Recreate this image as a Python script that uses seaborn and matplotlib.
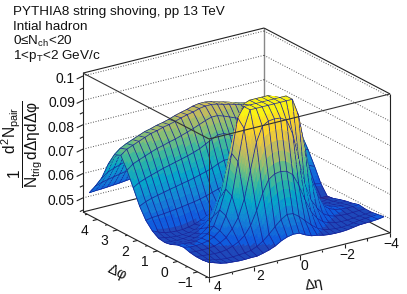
import matplotlib

matplotlib.use("Agg")
import matplotlib.pyplot as plt  # noqa: E402
import numpy as np  # noqa: E402
import seaborn as sns  # noqa: E402
from mpl_toolkits.mplot3d import proj3d  # noqa: E402
from mpl_toolkits.mplot3d.art3d import Poly3DCollection  # noqa: E402

title_lines = ["PYTHIA8 string shoving, pp 13 TeV", "Intial hadron", "0≤N$_{ch}$<20", "1<p$_{T}$<2 GeV/c"]
phi_centers = [-1.41, -1.10, -0.785, -0.47, -0.157, 0.157, 0.47, 0.785, 1.10, 1.41,
               1.73, 2.04, 2.36, 2.67, 2.98, 3.30, 3.61, 3.93, 4.24, 4.55]
eta_centers = [3.867, 3.6, 3.333, 3.067, 2.8, 2.533, 2.267, 2.0, 1.733, 1.467, 1.2, 0.933, 0.667, 0.4, 0.133,
               -0.133, -0.4, -0.667, -0.933, -1.2, -1.467, -1.733, -2.0, -2.267, -2.533, -2.8, -3.067, -3.333, -3.6, -3.867]
# per-trigger yield, one row per dphi bin, eta running from +3.87 to -3.87
pair_yield = [
    [.0496, .0488, .0480, .0475, .0473, .0471, .0471, .0472, .0472, .0478, .0485, .0495, .0510, .0520, .0525,
     .0523, .0510, .0500, .0496, .0490, .0487, .0486, .0486, .0488, .0492, .0496, .0497, .0498, .0500, .0504],
    [.0492, .0486, .0480, .0476, .0474, .0474, .0476, .0478, .0482, .0492, .0508, .0530, .0555, .0578, .0593,
     .0590, .0572, .0548, .0525, .0505, .0494, .0488, .0485, .0484, .0486, .0490, .0494, .0497, .0498, .0500],
    [.0492, .0490, .0488, .0486, .0486, .0490, .0498, .0510, .0530, .0565, .0620, .0685, .0735, .0752, .0756,
     .0750, .0730, .0680, .0615, .0560, .0526, .0506, .0496, .0490, .0488, .0488, .0490, .0492, .0494, .0496],
    [.0496, .0494, .0494, .0494, .0497, .0505, .0520, .0550, .0590, .0660, .0770, .0880, .0940, .0955, .0958,
     .0955, .0940, .0880, .0770, .0660, .0590, .0550, .0520, .0505, .0497, .0494, .0493, .0494, .0495, .0496],
    [.0504, .0498, .0498, .0500, .0505, .0515, .0535, .0590, .0665, .0800, .0930, .1000, .1000, .1000, .1000,
     .1000, .1000, .1000, .1000, .0930, .0800, .0665, .0590, .0535, .0515, .0505, .0500, .0498, .0498, .0500],
    [.0500, .0498, .0496, .0497, .0503, .0515, .0540, .0600, .0680, .0820, .0960, .1000, .1000, .1000, .1000,
     .1000, .1000, .1000, .1000, .0960, .0820, .0680, .0600, .0540, .0515, .0503, .0497, .0494, .0492, .0492],
    [.0488, .0486, .0484, .0485, .0490, .0500, .0520, .0560, .0625, .0720, .0830, .0930, .0990, .1000, .1000,
     .1000, .1000, .0990, .0930, .0830, .0720, .0625, .0560, .0520, .0500, .0490, .0485, .0484, .0485, .0487],
    [.0483, .0481, .0479, .0479, .0483, .0490, .0503, .0525, .0560, .0610, .0680, .0760, .0830, .0880, .0900,
     .0900, .0880, .0830, .0760, .0680, .0610, .0560, .0525, .0503, .0490, .0483, .0479, .0478, .0479, .0480],
    [.0487, .0483, .0478, .0476, .0476, .0478, .0484, .0495, .0512, .0535, .0565, .0600, .0635, .0660, .0670,
     .0670, .0660, .0635, .0600, .0565, .0535, .0512, .0495, .0484, .0478, .0474, .0472, .0471, .0471, .0471],
    [.0504, .0492, .0484, .0480, .0478, .0478, .0482, .0488, .0497, .0508, .0520, .0535, .0550, .0560, .0565,
     .0565, .0560, .0550, .0535, .0520, .0508, .0497, .0488, .0482, .0478, .0474, .0471, .0469, .0467, .0467],
    [.0533, .0538, .0540, .0542, .0545, .0548, .0552, .0556, .0560, .0565, .0572, .0580, .0588, .0596, .0600,
     .0600, .0596, .0588, .0580, .0572, .0565, .0558, .0550, .0544, .0538, .0530, .0524, .0518, .0510, .0505],
    [.0578, .0590, .0598, .0604, .0610, .0616, .0621, .0627, .0632, .0638, .0645, .0652, .0660, .0672, .0680,
     .0680, .0672, .0660, .0652, .0645, .0638, .0630, .0622, .0615, .0607, .0600, .0592, .0583, .0573, .0562],
    [.0640, .0655, .0665, .0673, .0681, .0689, .0695, .0702, .0708, .0715, .0723, .0732, .0745, .0758, .0770,
     .0770, .0758, .0745, .0732, .0723, .0715, .0706, .0697, .0688, .0680, .0671, .0660, .0648, .0632, .0616],
    [.0698, .0718, .0728, .0738, .0748, .0757, .0763, .0771, .0777, .0785, .0793, .0802, .0812, .0822, .0830,
     .0830, .0822, .0812, .0802, .0793, .0785, .0775, .0765, .0757, .0748, .0738, .0725, .0710, .0690, .0661],
    [.0746, .0765, .0775, .0785, .0795, .0805, .0810, .0818, .0823, .0830, .0838, .0845, .0850, .0858, .0862,
     .0862, .0858, .0850, .0845, .0838, .0830, .0823, .0818, .0810, .0805, .0795, .0785, .0775, .0760, .0731],
    [.0735, .0755, .0768, .0778, .0788, .0798, .0804, .0812, .0817, .0824, .0833, .0840, .0846, .0854, .0858,
     .0858, .0854, .0846, .0840, .0833, .0824, .0817, .0812, .0804, .0798, .0788, .0778, .0768, .0750, .0720],
    [.0682, .0705, .0716, .0726, .0736, .0745, .0752, .0760, .0766, .0774, .0783, .0791, .0802, .0812, .0820,
     .0820, .0812, .0802, .0791, .0783, .0774, .0766, .0760, .0752, .0745, .0736, .0726, .0716, .0700, .0672],
    [.0612, .0630, .0640, .0648, .0656, .0663, .0670, .0677, .0683, .0690, .0700, .0710, .0722, .0735, .0745,
     .0745, .0735, .0722, .0710, .0700, .0690, .0683, .0677, .0670, .0663, .0656, .0648, .0640, .0626, .0605],
    [.0566, .0574, .0580, .0585, .0590, .0595, .0600, .0606, .0610, .0615, .0622, .0630, .0642, .0655, .0665,
     .0665, .0655, .0642, .0630, .0622, .0615, .0610, .0606, .0600, .0595, .0590, .0585, .0580, .0572, .0560],
    [.0525, .0527, .0528, .0530, .0532, .0534, .0537, .0540, .0545, .0552, .0560, .0570, .0580, .0588, .0592,
     .0592, .0588, .0580, .0570, .0560, .0552, .0545, .0540, .0537, .0534, .0532, .0530, .0528, .0526, .0522],
]
z_ticks = [0.05, 0.06, 0.07, 0.08, 0.09, 0.1]
z_minor = [0.045, 0.055, 0.065, 0.075, 0.085, 0.095]
phi_ticks = [-1, 0, 1, 2, 3, 4]
phi_minor = [-1.5, -0.5, 0.5, 1.5, 2.5, 3.5, 4.5]
eta_ticks = [4, 2, 0, -2, -4]
eta_minor = [3, 1, -1, -3]
bird_colors = ["#352a87", "#0f5cdd", "#1481d6", "#06a4ca", "#2eb7a4", "#87bf77", "#d1bb59", "#fdd52a", "#f9fb0e"]

PHI_LO, PHI_HI = -np.pi / 2, 3 * np.pi / 2
ETA_LO, ETA_HI = -4.0, 4.0
Z_LO, Z_HI = 0.0442, 0.1012
ELEV, AZIM = 21.15, 145.4
BOX = (222, 220, 149)
SUBDIV = 5
WIDTH, HEIGHT = 407, 294
AX_PX = 336
CENTER_X, CENTER_Y = 232, 157.5
MESH = "#1a2196"

sns.set_theme(style="white")
plt.rcParams["font.family"] = ["Liberation Sans", "DejaVu Sans"]
plt.rcParams["mathtext.fontset"] = "custom"
plt.rcParams["mathtext.rm"] = "Liberation Sans"
plt.rcParams["mathtext.it"] = "Liberation Sans"
plt.rcParams["mathtext.default"] = "regular"

bird = sns.blend_palette(bird_colors, n_colors=256, as_cmap=True)

fig = plt.figure(figsize=(WIDTH / 100, HEIGHT / 100), dpi=100)
ax = fig.add_axes(
    [
        (CENTER_X - AX_PX / 2) / WIDTH,
        1 - (CENTER_Y + AX_PX / 2) / HEIGHT,
        AX_PX / WIDTH,
        AX_PX / HEIGHT,
    ],
    projection="3d",
    proj_type="ortho",
    computed_zorder=False,
)
ax.set_xlim(PHI_LO, PHI_HI, view_margin=0)
ax.set_ylim(ETA_LO, ETA_HI, view_margin=0)
ax.set_zlim(Z_LO, Z_HI, view_margin=0)
ax.set_box_aspect(BOX)
ax.view_init(elev=ELEV, azim=AZIM)
ax.set_xticks([])
ax.set_yticks([])
ax.set_zticks([])
ax.set_axis_off()
ax.patch.set_alpha(0)


def line(xs, ys, zs, color="#222222", lw=0.8, ls="-", z=1):
    ax.plot(xs, ys, zs, color=color, lw=lw, ls=ls, zorder=z, solid_capstyle="butt")


def label(x, y, z, text, ha="center"):
    # tick labels go through the 3d projection once, then stay plain 2d text
    x2, y2, _ = proj3d.proj_transform(x, y, z, ax.get_proj())
    ax.text2D(x2, y2, text, transform=ax.transData, ha=ha, va="center", fontsize=10, color="#111111")


# back of the box and z grid
line([PHI_HI, PHI_HI], [ETA_LO, ETA_LO], [Z_LO, Z_HI], color="#888888", lw=1.0)
for zv in z_ticks:
    line([PHI_HI, PHI_HI], [ETA_HI, ETA_LO], [zv, zv], color="#555555", lw=0.7, ls=":")
    line([PHI_HI, PHI_LO], [ETA_LO, ETA_LO], [zv, zv], color="#555555", lw=0.7, ls=":")
line([PHI_HI, PHI_HI], [ETA_HI, ETA_LO], [Z_LO, Z_LO])
line([PHI_HI, PHI_LO], [ETA_LO, ETA_LO], [Z_LO, Z_LO])
line([PHI_HI, PHI_HI], [ETA_HI, ETA_LO], [Z_HI, Z_HI])
line([PHI_HI, PHI_LO], [ETA_LO, ETA_LO], [Z_HI, Z_HI])


def refine(values):
    values = np.asarray(values, dtype=float)
    n = values.shape[0]
    new = np.linspace(0, n - 1, (n - 1) * SUBDIV + 1)
    if values.ndim == 1:
        return np.interp(new, np.arange(n), values)
    return np.array([np.interp(new, np.arange(n), values[:, k]) for k in range(values.shape[1])]).T


# colour bands need a finer mesh than the bins, the wire stays on the bins
z_fine = refine(refine(np.array(pair_yield)).T).T
phi_fine = refine(phi_centers)
eta_fine = refine(eta_centers)
pp, ee = np.meshgrid(phi_fine, eta_fine, indexing="ij")
pts = np.stack([pp, ee, z_fine], axis=-1)
quads = np.stack([pts[:-1, :-1], pts[1:, :-1], pts[1:, 1:], pts[:-1, 1:]], axis=2).reshape(-1, 4, 3)
levels = np.floor((quads[:, :, 2].mean(axis=1) - Z_LO) / (0.1 - Z_LO) * 20).clip(0, 19)
face = bird((levels + 0.5) / 20)

# wire pushed toward the viewer so it wins the depth sort, no shift on screen in ortho
az, el = np.radians(AZIM), np.radians(ELEV)
view = np.array([np.cos(az) * np.cos(el), np.sin(az) * np.cos(el), np.sin(el)])
spans = np.array([PHI_HI - PHI_LO, ETA_HI - ETA_LO, Z_HI - Z_LO])
bias = 0.012 * max(BOX) * view * spans / np.array(BOX)
segs = []
for i in range(0, pts.shape[0], SUBDIV):
    segs.append(np.stack([pts[i, :-1], pts[i, 1:], pts[i, 1:], pts[i, :-1]], axis=1))
for j in range(0, pts.shape[1], SUBDIV):
    segs.append(np.stack([pts[:-1, j], pts[1:, j], pts[1:, j], pts[:-1, j]], axis=1))
segs = np.concatenate(segs) + bias

wire = matplotlib.colors.to_rgba(MESH)
verts = np.concatenate([quads, segs])
faces = np.concatenate([face, np.tile(wire, (len(segs), 1))])
surf = Poly3DCollection(verts, facecolors=faces, edgecolors=faces, linewidths=0.55, zsort="average", zorder=2)
ax.add_collection3d(surf, autolim=False)

# front of the box
line([PHI_LO, PHI_LO], [ETA_HI, ETA_HI], [Z_LO, Z_HI], color="#333333", lw=0.7, z=3)
line([PHI_LO, PHI_LO], [ETA_HI, ETA_LO], [Z_HI, Z_HI], color="#333333", lw=0.8, z=3)
line([PHI_HI, PHI_LO], [ETA_HI, ETA_HI], [Z_HI, Z_HI], color="#333333", lw=0.8, z=3)
line([PHI_LO, PHI_LO], [ETA_HI, ETA_LO], [Z_LO, Z_LO], z=3)
line([PHI_HI, PHI_LO], [ETA_HI, ETA_HI], [Z_LO, Z_LO], z=3)
line([PHI_HI, PHI_HI], [ETA_HI, ETA_HI], [Z_LO, Z_HI], z=3)
line([PHI_LO, PHI_LO], [ETA_LO, ETA_LO], [Z_LO, Z_HI], z=3)

# z axis ticks sit on the left vertical, pushed out along eta
for zv in z_ticks:
    line([PHI_HI, PHI_HI], [ETA_HI, ETA_HI + 0.28], [zv, zv - 0.0006], z=3)
    label(PHI_HI, ETA_HI + 0.36, zv - 0.0003, f"{zv:g}", ha="right")
for zv in z_minor:
    line([PHI_HI, PHI_HI], [ETA_HI, ETA_HI + 0.14], [zv, zv - 0.0003], z=3)
for pv in phi_ticks:
    line([pv, pv], [ETA_HI, ETA_HI + 0.2], [Z_LO, Z_LO], z=3)
    label(pv, ETA_HI + 0.56, Z_LO - 0.0033, f"{pv}".replace("-", "\u2212"))
for pv in phi_minor:
    line([pv, pv], [ETA_HI, ETA_HI + 0.1], [Z_LO, Z_LO], z=3)
for ev in eta_ticks:
    line([PHI_LO, PHI_LO], [ev, ev], [Z_LO, Z_LO - 0.0018], z=3)
    label(PHI_LO - 0.4, ev + (4 - ev) * 0.04, Z_LO - 0.0021, f"{ev}".replace("-", "\u2212"))
for ev in eta_minor:
    line([PHI_LO, PHI_LO], [ev, ev], [Z_LO, Z_LO - 0.0009], z=3)

for k, text in enumerate(title_lines):
    fig.text(13 / WIDTH, 1 - (12.5 + 14.5 * k) / HEIGHT, text, ha="left", va="center", fontsize=9.7, color="#111111")

fig.text(
    22 / WIDTH,
    1 - 144.5 / HEIGHT,
    r"$\dfrac{1}{N_{trig}}\dfrac{d^{2}N_{pair}}{d\Delta\eta d\Delta\varphi}$",
    rotation=90,
    ha="center",
    va="center",
    fontsize=11.2,
    color="#111111",
)
fig.text(117 / WIDTH, 1 - 273 / HEIGHT, r"$\Delta\varphi$", rotation=-25, ha="center", va="center", fontsize=10.5, color="#111111")
fig.text(314 / WIDTH, 1 - 285 / HEIGHT, r"$\Delta\eta$", rotation=10, ha="center", va="center", fontsize=10.5, color="#111111")

fig.savefig("out.png", dpi=100)
plt.close(fig)
